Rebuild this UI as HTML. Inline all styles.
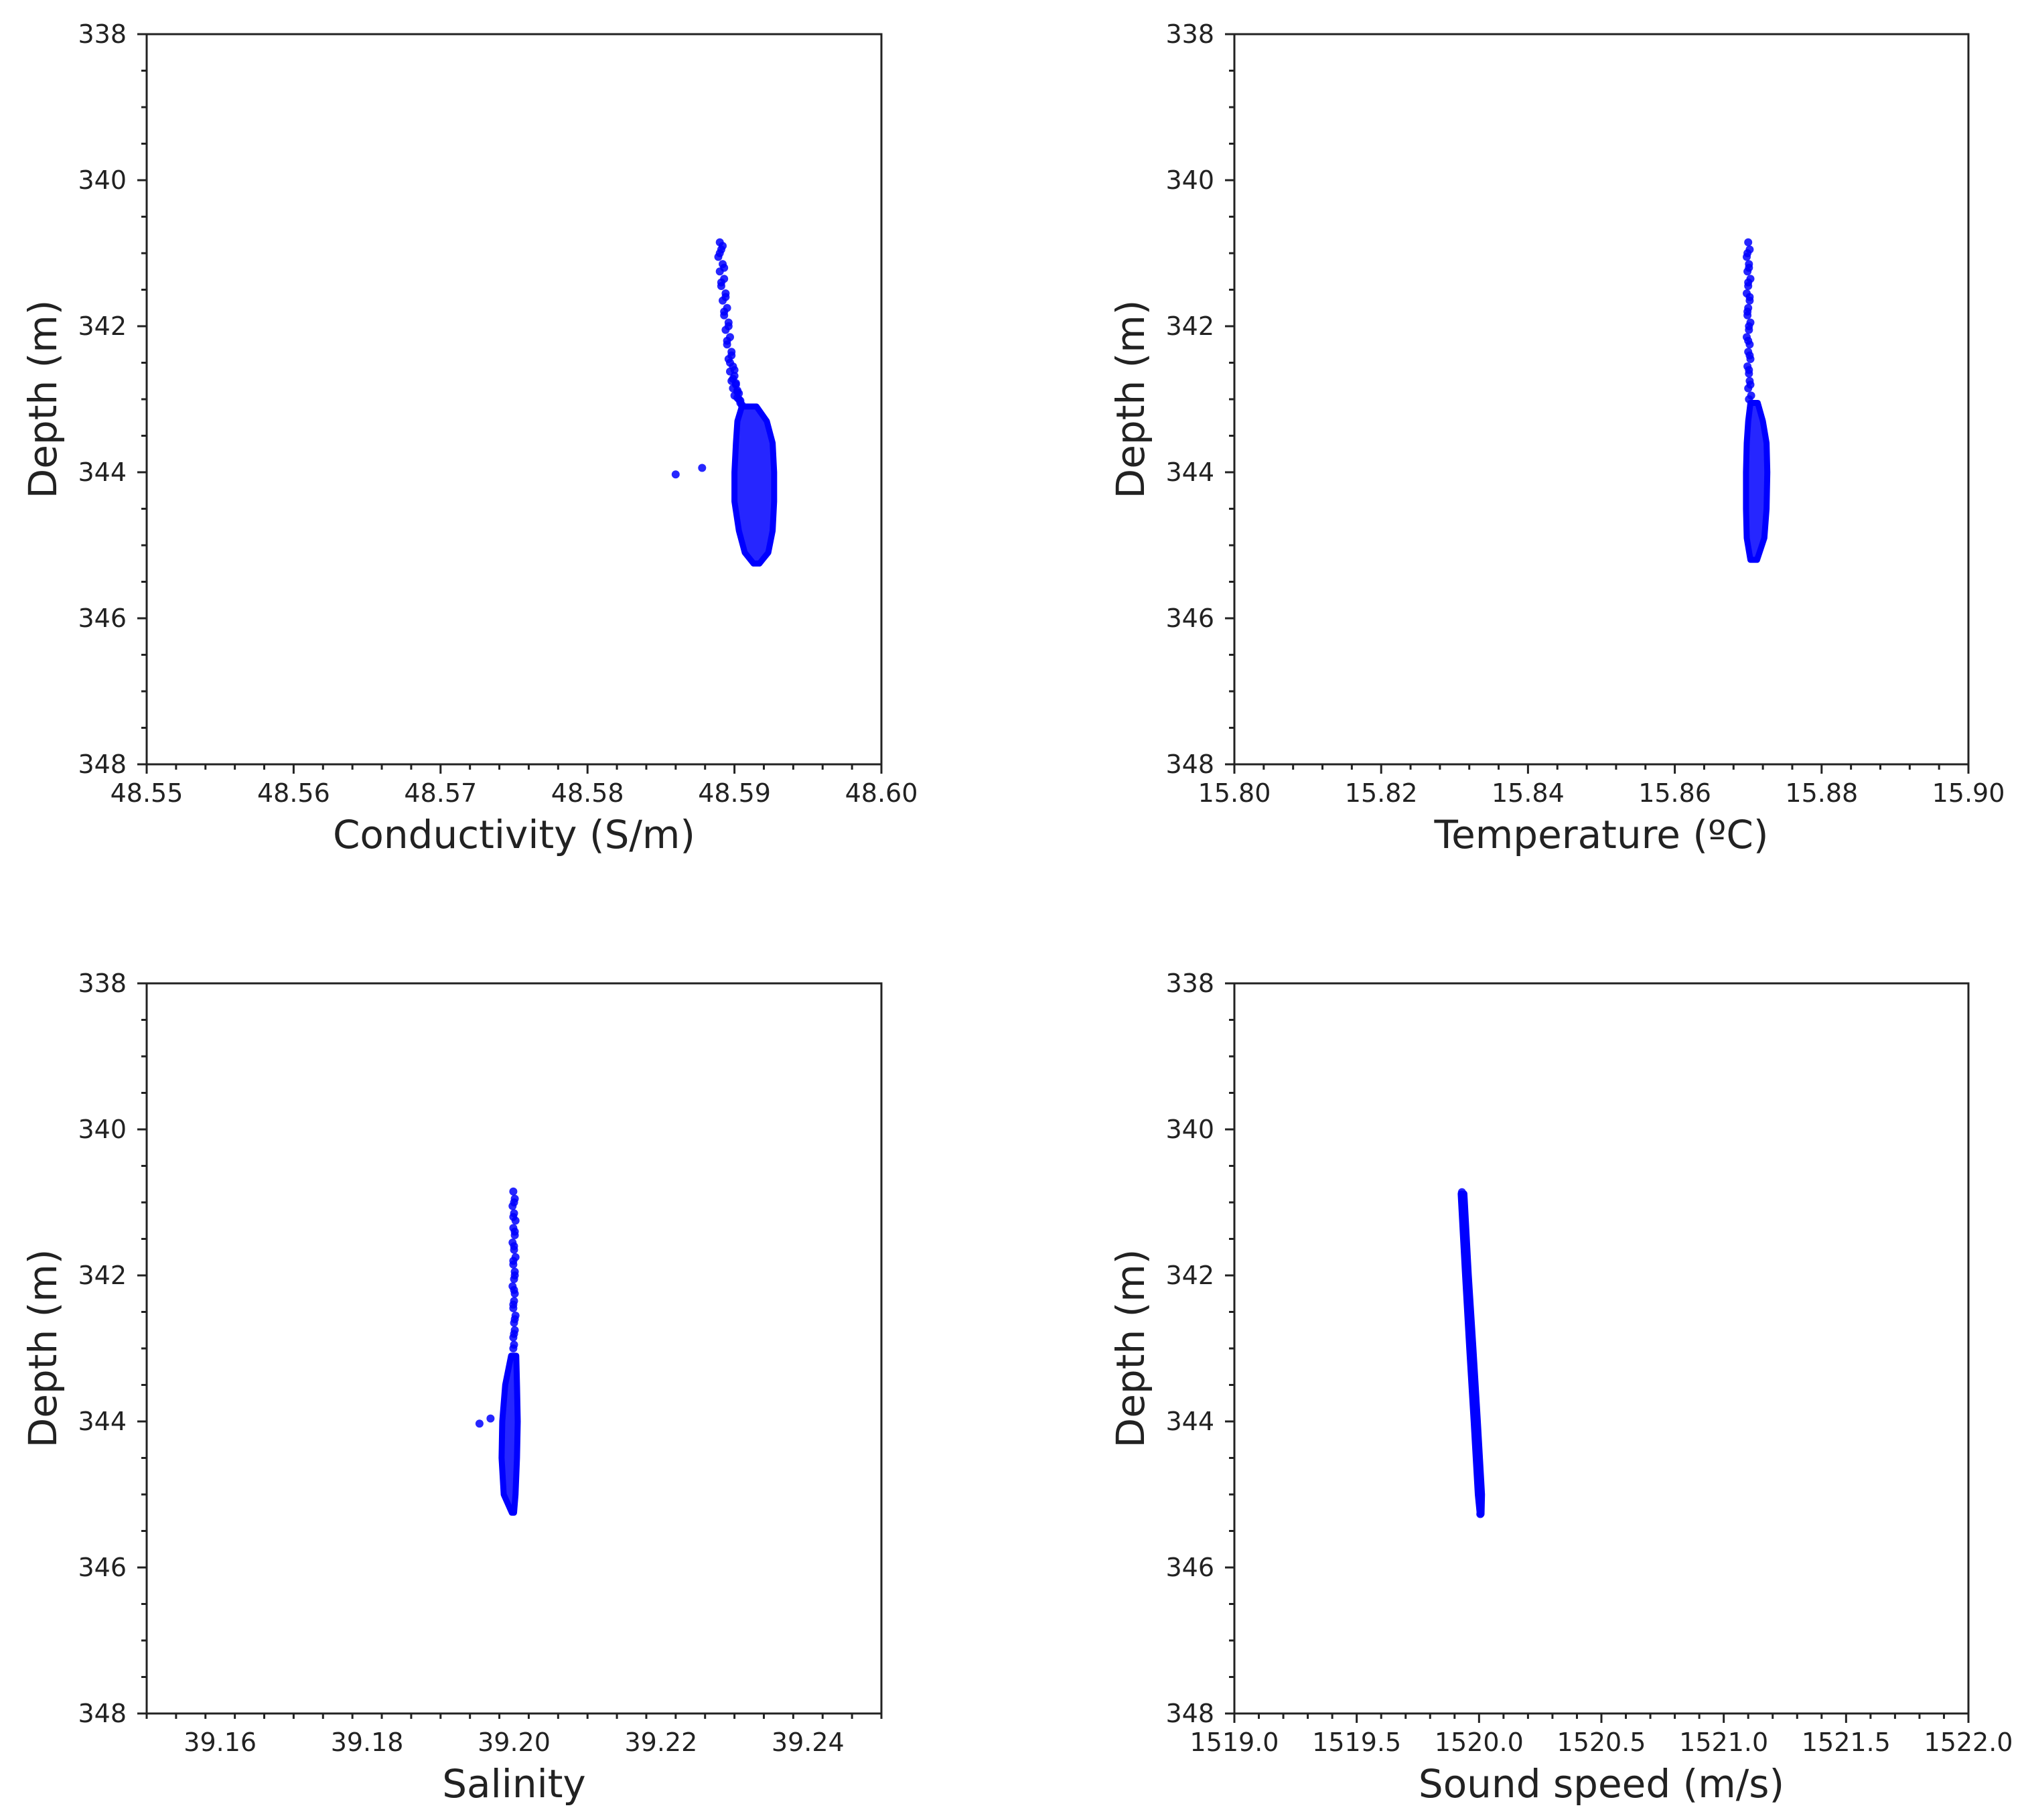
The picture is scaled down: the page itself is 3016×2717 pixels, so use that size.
<!DOCTYPE html>
<html><head><meta charset="utf-8">
<style>
html,body{margin:0;padding:0;background:#fff;}
svg{display:block;}
text{font-family:"DejaVu Sans","Liberation Sans",sans-serif;fill:#222;}
</style></head>
<body>
<svg id="fig" width="3016" height="2717" viewBox="0 0 3016 2717" xmlns="http://www.w3.org/2000/svg"></svg>
<script>
// ---- data ----
const yTicks = [338, 340, 342, 344, 346, 348];
const condTicks = ["48.55","48.56","48.57","48.58","48.59","48.60"];
const tempTicks = ["15.80","15.82","15.84","15.86","15.88","15.90"];
const salTicks = ["39.16","39.18","39.20","39.22","39.24"];
const soundTicks = ["1519.0","1519.5","1520.0","1520.5","1521.0","1521.5","1522.0"];

// Conductivity
const condEnvDepth = [343.1, 343.3, 343.6, 344.0, 344.4, 344.8, 345.1, 345.25];
const condEnvMin = [48.5905, 48.5902, 48.5901, 48.5900, 48.5900, 48.5903, 48.5907, 48.5913];
const condEnvMax = [48.5915, 48.5922, 48.5926, 48.5927, 48.5927, 48.5926, 48.5923, 48.5917];
const condTailX = [48.5890,48.5891,48.5889,48.5892,48.5890,48.5893,48.5891,48.5894,48.5892,48.5895,48.5893,48.5896,48.5894,48.5897,48.5895,48.5898,48.5896,48.5899,48.5897,48.5900,48.5898,48.5901,48.5899,48.5902,48.5900,48.5903,48.5904,48.5902,48.5905,48.5860,48.5878,
  48.5892,48.5890,48.5893,48.5891,48.5894,48.5893,48.5896,48.5895,48.5898,48.5897,48.5900,48.5899,48.5901,48.5903,48.5902,48.5904];
const condTailD = [340.85,340.95,341.05,341.15,341.25,341.35,341.45,341.55,341.65,341.75,341.85,341.95,342.05,342.15,342.25,342.35,342.45,342.55,342.62,342.68,342.75,342.8,342.85,342.9,342.95,343.0,343.05,342.88,343.08,344.03,343.94,
  340.9,341.0,341.2,341.4,341.6,341.8,342.0,342.2,342.4,342.5,342.6,342.72,342.78,342.92,342.98,343.02];

// Temperature
const tempEnvDepth = [343.05, 343.3, 343.6, 344.0, 344.5, 344.9, 345.2];
const tempEnvMin = [15.8703, 15.8700, 15.8698, 15.8697, 15.8697, 15.8698, 15.8703];
const tempEnvMax = [15.8713, 15.8720, 15.8725, 15.8726, 15.8725, 15.8722, 15.8712];
const tempTailX = [15.8700,15.8702,15.8698,15.8701,15.8699,15.8703,15.8700,15.8698,15.8702,15.8700,15.8699,15.8703,15.8701,15.8698,15.8702,15.8700,15.8703,15.8699,15.8701,15.8702,15.8700,15.8704,
  15.8699,15.8701,15.8700,15.8702,15.8699,15.8701,15.8700,15.8702,15.8701,15.8703,15.8701];
const tempTailD = [340.85,340.95,341.05,341.15,341.25,341.35,341.45,341.55,341.65,341.75,341.85,341.95,342.05,342.15,342.25,342.35,342.45,342.55,342.65,342.75,342.85,342.95,
  341.0,341.2,341.4,341.6,341.8,342.0,342.2,342.4,342.6,342.8,343.0];

// Salinity
const salEnvDepth = [343.1, 343.5, 344.0, 344.5, 345.0, 345.25];
const salEnvMin = [39.1996, 39.1988, 39.1984, 39.1983, 39.1986, 39.1997];
const salEnvMax = [39.2003, 39.2004, 39.2005, 39.2004, 39.2002, 39.2000];
const salTailX = [39.1999,39.2001,39.1998,39.2000,39.2002,39.1999,39.2001,39.1998,39.2000,39.2002,39.1999,39.2001,39.2000,39.1998,39.2001,39.2000,39.1999,39.2002,39.2000,39.2001,39.1999,39.2000,39.1953,39.1968,
  39.2000,39.1999,39.2001,39.2000,39.1999,39.2001,39.2000,39.1999,39.2001,39.2000,39.1999];
const salTailD = [340.85,340.95,341.05,341.15,341.25,341.35,341.45,341.55,341.65,341.75,341.85,341.95,342.05,342.15,342.25,342.35,342.45,342.55,342.65,342.75,342.85,342.95,344.03,343.96,
  341.0,341.2,341.4,341.6,341.8,342.0,342.2,342.4,342.6,342.8,343.0];

// Sound speed
const soundEnvDepth = [340.88, 342.0, 343.0, 344.0, 345.0, 345.27];
const soundEnvMin = [1519.925, 1519.943, 1519.960, 1519.978, 1519.995, 1520.003];
const soundEnvMax = [1519.940, 1519.958, 1519.977, 1519.995, 1520.012, 1520.010];
const soundTailX = [1519.930, 1520.005];
const soundTailD = [340.86, 345.27];

// ---- drawing ----
const NS = "http://www.w3.org/2000/svg";
const svg = document.getElementById('fig');
function mk(tag, attrs, parent){
  const e = document.createElementNS(NS, tag);
  for (const k in attrs) e.setAttribute(k, attrs[k]);
  (parent||svg).appendChild(e);
  return e;
}

function panel(cfg){
  const g = mk('g', {});
  
  
  const L=cfg.L, R=cfg.R, T=cfg.T, B=cfg.B;
  const xs = v => L + (v - cfg.xmin) / (cfg.xmax - cfg.xmin) * (R - L);
  const ys = d => T + (d - 338) / 10 * (B - T);
  const dg = mk('g', {fill:'#0000ff', 'fill-opacity':'0.85'}, g);
  
  
  let pts = [];
  for (let i=0;i<cfg.envD.length;i++) pts.push(xs(cfg.envMin[i]).toFixed(1)+','+ys(cfg.envD[i]).toFixed(1));
  for (let i=cfg.envD.length-1;i>=0;i--) pts.push(xs(cfg.envMax[i]).toFixed(1)+','+ys(cfg.envD[i]).toFixed(1));
  const poly = mk('polygon', {points:pts.join(' '), stroke:'#0000ff', 'stroke-width':'9', 'stroke-linejoin':'round'}, dg);
  
  
  for (let i=0;i<cfg.tailX.length;i++){
    const c = mk('circle', {cx:xs(cfg.tailX[i]).toFixed(1), cy:ys(cfg.tailD[i]).toFixed(1), r:6}, dg);
    
    
  }
  const fr = mk('rect', {x:L, y:T, width:R-L, height:B-T, fill:'none', stroke:'#222', 'stroke-width':3}, g);
  
  
  for (let d=338; d<=348.001; d+=0.5){
    const major = Math.abs(d - Math.round(d/2)*2) < 1e-6;
    mk('line', {x1:L-(major?14:8), x2:L, y1:ys(d), y2:ys(d), stroke:'#222', 'stroke-width':3}, g);
  }
  yTicks.forEach(v=>{
    const t = mk('text', {x:L-30, y:ys(v)+13, 'font-size':38, 'text-anchor':'end'}, g);
    t.textContent = v;
    
    
  });
  const nMinor = Math.round((cfg.xmax - cfg.xmin)/cfg.minor);
  for (let i=0;i<=nMinor;i++){
    const v = cfg.xmin + i*cfg.minor;
    const isMajor = cfg.ticks.some(s => Math.abs(parseFloat(s)-v) < cfg.minor*0.01);
    mk('line', {x1:xs(v), x2:xs(v), y1:B, y2:B+(isMajor?14:8), stroke:'#222', 'stroke-width':3}, g);
  }
  cfg.ticks.forEach(s=>{
    const t = mk('text', {x:xs(parseFloat(s)), y:B+56, 'font-size':38, 'text-anchor':'middle'}, g);
    t.textContent = s;
    
    
  });
  const xl = mk('text', {x:(L+R)/2, y:B+125, 'font-size':58, 'text-anchor':'middle'}, g);
  xl.textContent = cfg.xlabel;
  
  
  const yx = L-135, yy = (T+B)/2;
  const yl = mk('text', {x:yx, y:yy, 'font-size':58, 'text-anchor':'middle', transform:`rotate(-90 ${yx} ${yy})`}, g);
  yl.textContent = 'Depth (m)';
  
  
}

panel({name:'conductivity-panel', L:219, R:1316, T:51, B:1141, xmin:48.55, xmax:48.60, minor:0.002, ticks:condTicks, xlabel:'Conductivity (S/m)', envD:condEnvDepth, envMin:condEnvMin, envMax:condEnvMax, tailX:condTailX, tailD:condTailD});
panel({name:'temperature-panel', L:1843, R:2939, T:51, B:1141, xmin:15.80, xmax:15.90, minor:0.004, ticks:tempTicks, xlabel:'Temperature (ºC)', envD:tempEnvDepth, envMin:tempEnvMin, envMax:tempEnvMax, tailX:tempTailX, tailD:tempTailD});
panel({name:'salinity-panel', L:219, R:1316, T:1468, B:2558, xmin:39.15, xmax:39.25, minor:0.004, ticks:salTicks, xlabel:'Salinity', envD:salEnvDepth, envMin:salEnvMin, envMax:salEnvMax, tailX:salTailX, tailD:salTailD});
panel({name:'sound-speed-panel', L:1843, R:2939, T:1468, B:2558, xmin:1519.0, xmax:1522.0, minor:0.1, ticks:soundTicks, xlabel:'Sound speed (m/s)', envD:soundEnvDepth, envMin:soundEnvMin, envMax:soundEnvMax, tailX:soundTailX, tailD:soundTailD});
</script>
</body></html>
